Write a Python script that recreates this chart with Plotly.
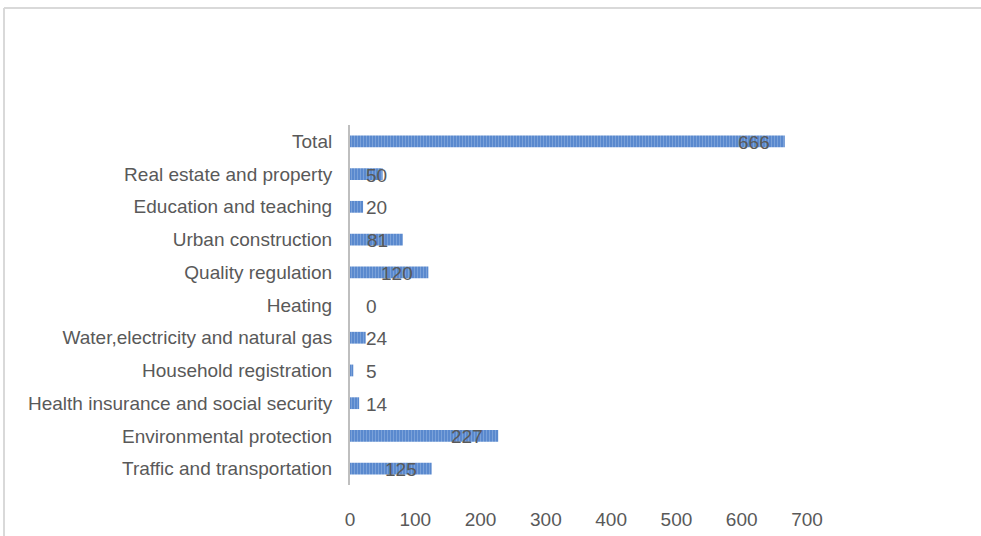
import plotly.graph_objects as go

categories = [
    "Total",
    "Real estate and property",
    "Education and teaching",
    "Urban construction",
    "Quality regulation",
    "Heating",
    "Water,electricity and natural gas",
    "Household registration",
    "Health insurance and social security",
    "Environmental protection",
    "Traffic and transportation",
]
values = [666, 50, 20, 81, 120, 0, 24, 5, 14, 227, 125]
x_ticks = [0, 100, 200, 300, 400, 500, 600, 700]

FONT = "Liberation Sans Narrow, Arial Narrow, Liberation Sans, Arial, sans-serif"
FS = 19
TXT = "#595959"
W, H = 981, 536
ML, MR, MT, MB = 350, 174, 125, 51
px_per_unit = (W - ML - MR) / (x_ticks[-1] - x_ticks[0])

fig = go.Figure()
fig.add_trace(go.Bar(
    y=categories, x=values, orientation="h",
    marker=dict(color="#5686cc", line=dict(width=0),
                pattern=dict(shape="|", fgcolor="#9dbbe6", size=3, solidity=0.4)),
    width=0.36, hoverinfo="x+y",
))

annotations = []
for c, v in zip(categories, values):
    tw = len(str(v)) * 0.556 * FS
    if v * px_per_unit >= 27 + tw:
        annotations.append(dict(x=v, y=c, text=str(v), showarrow=False,
                                xanchor="right", xshift=-13, yshift=-1,
                                font=dict(family=FONT, size=FS, color=TXT)))
    else:
        annotations.append(dict(x=0, y=c, text=str(v), showarrow=False,
                                xanchor="left", xshift=14, yshift=-1,
                                font=dict(family=FONT, size=FS, color=TXT)))

pw = W - ML - MR
ph = H - MT - MB
fx = lambda px: (px - ML) / pw
fy = lambda py: 1 - (py - MT) / ph

shapes = [
    dict(type="line", xref="paper", yref="paper", x0=fx(4), x1=fx(W + 5), y0=fy(8), y1=fy(8),
         line=dict(color="#d9d9d9", width=2)),
    dict(type="line", xref="paper", yref="paper", x0=fx(4), x1=fx(4), y0=fy(8), y1=fy(H + 5),
         line=dict(color="#d9d9d9", width=2)),
]

fig.update_layout(
    width=W, height=H,
    margin=dict(l=ML, r=MR, t=MT, b=MB, autoexpand=False),
    paper_bgcolor="white", plot_bgcolor="white",
    showlegend=False,
    annotations=annotations,
    shapes=shapes,
    font=dict(family=FONT, size=FS, color=TXT),
    xaxis=dict(range=[x_ticks[0], x_ticks[-1]], tickvals=x_ticks, showgrid=False,
               zeroline=False, showline=False, ticks="", ticklabelstandoff=21,
               automargin=False,
               tickfont=dict(family=FONT, size=FS, color=TXT), fixedrange=True),
    yaxis=dict(autorange="reversed", showgrid=False, zeroline=False, showline=True,
               linecolor="#bfbfbf", linewidth=2, ticks="", ticklabelstandoff=12,
               automargin=False,
               tickfont=dict(family=FONT, size=FS, color=TXT), fixedrange=True),
    bargap=0.64,
)

fig.write_html("out.html", config={"displayModeBar": False},
               post_script="document.body.style.margin='0';document.body.style.overflow='hidden';")
